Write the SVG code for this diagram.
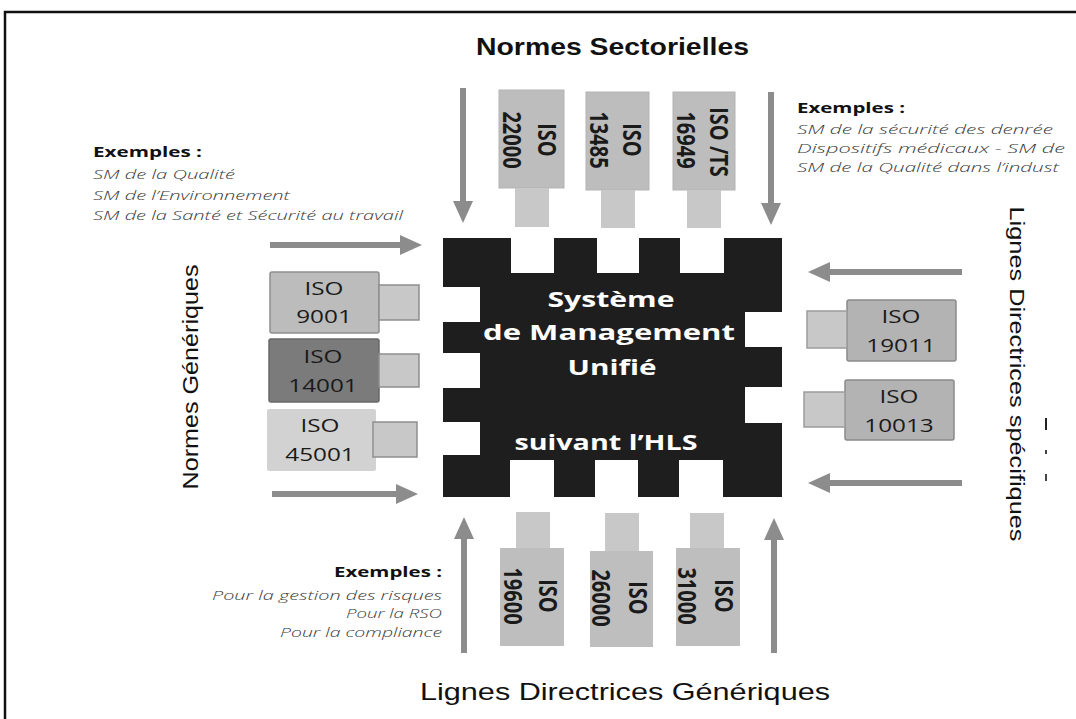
<svg xmlns="http://www.w3.org/2000/svg" width="1076" height="719" viewBox="0 0 1076 719">
<style>
.title{font-family:"Liberation Sans",Arial,sans-serif;fill:#111;}
.ex{font-family:"Open Sans","Liberation Sans",sans-serif;font-weight:bold;font-size:15px;fill:#111;}
.it{font-family:"Open Sans","Liberation Sans",sans-serif;font-style:italic;font-weight:300;font-size:13px;fill:#3a3a3a;}
.lbl{font-family:"Open Sans","Liberation Sans",sans-serif;font-size:18px;fill:#1a1a1a;text-anchor:middle;}
.vlbl{font-family:"Open Sans","Liberation Sans",sans-serif;font-weight:bold;font-size:20px;fill:#1a1a1a;text-anchor:middle;}
.chip{font-family:"Open Sans","Liberation Sans",sans-serif;font-weight:bold;font-size:22px;fill:#fff;text-anchor:middle;}
.arr{stroke:#8c8c8c;stroke-width:6;fill:none;marker-end:url(#ah);}
.plug{fill:#c8c8c8;}
</style>
<defs>
<marker id="ah" viewBox="0 0 22 20" refX="7" refY="10" markerWidth="22" markerHeight="20" markerUnits="userSpaceOnUse" orient="auto">
<path d="M0,0 L22,10 L0,20 Z" fill="#8c8c8c"/>
</marker>
</defs>
<rect width="1076" height="719" fill="#fff"/>
<path d="M5,719 V12 H1076" fill="none" stroke="#111" stroke-width="2.5"/>

<g id="label-normes-sectorielles"><text class="title" x="476" y="55" font-size="23" font-weight="bold" textLength="273" lengthAdjust="spacingAndGlyphs">Normes Sectorielles</text></g>
<g id="label-lignes-generiques"><text class="title" x="420" y="700" font-size="24" textLength="410" lengthAdjust="spacingAndGlyphs">Lignes Directrices Génériques</text></g>
<g id="label-normes-generiques"><text class="title" transform="translate(198 377) rotate(-90)" x="-112.5" y="0" font-size="22" textLength="225" lengthAdjust="spacingAndGlyphs">Normes Génériques</text></g>
<g id="label-lignes-specifiques"><text class="title" transform="translate(1010 374) rotate(90)" x="-167.5" y="0" font-size="21" textLength="335" lengthAdjust="spacingAndGlyphs">Lignes Directrices spécifiques</text>
<rect x="1045" y="418" width="2" height="12" fill="#222"/><rect x="1045" y="450" width="2" height="4" fill="#444"/><rect x="1045" y="474" width="2" height="7" fill="#444"/></g>

<g id="examples-generic">
<text class="ex" x="93" y="157" textLength="109" lengthAdjust="spacingAndGlyphs">Exemples :</text>
<text class="it" x="93" y="179" textLength="142" lengthAdjust="spacingAndGlyphs">SM de la Qualité</text>
<text class="it" x="93" y="200" textLength="197" lengthAdjust="spacingAndGlyphs">SM de l’Environnement</text>
<text class="it" x="93" y="220" textLength="310" lengthAdjust="spacingAndGlyphs">SM de la Santé et Sécurité au travail</text>
</g>
<g id="examples-sector">
<text class="ex" x="797" y="113" textLength="108" lengthAdjust="spacingAndGlyphs">Exemples :</text>
<text class="it" x="797" y="134" textLength="256" lengthAdjust="spacingAndGlyphs">SM de la sécurité des denrée</text>
<text class="it" x="797" y="153" textLength="268" lengthAdjust="spacingAndGlyphs">Dispositifs médicaux - SM de</text>
<text class="it" x="797" y="172" textLength="262" lengthAdjust="spacingAndGlyphs">SM de la Qualité dans l’indust</text>
</g>
<g id="examples-guidelines">
<text class="ex" x="334" y="577" textLength="108" lengthAdjust="spacingAndGlyphs">Exemples :</text>
<text class="it" x="212" y="600" textLength="230" lengthAdjust="spacingAndGlyphs">Pour la gestion des risques</text>
<text class="it" x="346" y="618" textLength="96" lengthAdjust="spacingAndGlyphs">Pour la RSO</text>
<text class="it" x="280" y="637" textLength="162" lengthAdjust="spacingAndGlyphs">Pour la compliance</text>
</g>

<g id="node-chip">
<path d="M443,238 H511 V273 H554 V238 H597 V273 H639 V238 H680 V273 H724 V238 H782 V312 H745 V347 H782 V387 H745 V423 H782 V497 H723 V460 H679 V497 H638 V460 H595 V497 H554 V460 H510 V497 H443 V455 H480 V422 H443 V388 H480 V353 H443 V322 H480 V287 H443 Z" fill="#1e1e1e"/>
<text class="chip" x="611" y="307" textLength="127" lengthAdjust="spacingAndGlyphs">Système</text>
<text class="chip" x="609" y="340" textLength="252" lengthAdjust="spacingAndGlyphs">de Management</text>
<text class="chip" x="612" y="375" textLength="89" lengthAdjust="spacingAndGlyphs">Unifié</text>
<text class="chip" x="606" y="450" textLength="183" lengthAdjust="spacingAndGlyphs">suivant l’HLS</text>
</g>

<g id="node-iso22000">
<rect x="499" y="90" width="65" height="98" fill="#bdbdbd" stroke="#b3b3b3"/>
<rect class="plug" x="515" y="188" width="34" height="39"/>
<text class="vlbl" transform="translate(538 140) scale(1.25 1) rotate(90)">ISO</text>
<text class="vlbl" transform="translate(503 140) scale(1.25 1) rotate(90)">22000</text>
</g>
<g id="node-iso13485">
<rect x="586" y="92" width="63" height="98" fill="#bdbdbd" stroke="#b3b3b3"/>
<rect class="plug" x="601" y="190" width="34" height="38"/>
<text class="vlbl" transform="translate(623 140) scale(1.25 1) rotate(90)">ISO</text>
<text class="vlbl" transform="translate(590 140) scale(1.25 1) rotate(90)">13485</text>
</g>
<g id="node-iso16949">
<rect x="673" y="92" width="62" height="98" fill="#bdbdbd" stroke="#b3b3b3"/>
<rect class="plug" x="687" y="190" width="34" height="38"/>
<text class="vlbl" transform="translate(710 142) scale(1.25 1) rotate(90)">ISO /TS</text>
<text class="vlbl" transform="translate(677 140) scale(1.25 1) rotate(90)">16949</text>
</g>

<g id="node-iso9001">
<rect x="270" y="272" width="109" height="61" rx="2" fill="#bcbcbc" stroke="#8e8e8e" stroke-width="1.5"/>
<rect class="plug" x="379" y="285" width="40" height="35" stroke="#8e8e8e" stroke-width="1.5"/>
<text class="lbl" transform="translate(324 295) scale(1.35 1)">ISO</text>
<text class="lbl" transform="translate(324 323) scale(1.35 1)">9001</text>
</g>
<g id="node-iso14001">
<rect x="269" y="339" width="110" height="63" rx="2" fill="#7b7b7b" stroke="#6a6a6a" stroke-width="1.5"/>
<rect class="plug" x="379" y="354" width="40" height="33" stroke="#8e8e8e" stroke-width="1.5"/>
<text class="lbl" transform="translate(323 363) scale(1.35 1)">ISO</text>
<text class="lbl" transform="translate(323 392) scale(1.35 1)">14001</text>
</g>
<g id="node-iso45001">
<rect x="267" y="409" width="109" height="62" rx="2" fill="#d2d2d2"/>
<rect class="plug" x="373" y="422" width="44" height="35" stroke="#8e8e8e" stroke-width="1.5"/>
<text class="lbl" transform="translate(320 432) scale(1.35 1)">ISO</text>
<text class="lbl" transform="translate(320 461) scale(1.35 1)">45001</text>
</g>

<g id="node-iso19011">
<rect x="847" y="300" width="109" height="61" rx="2" fill="#b3b3b3" stroke="#8a8a8a" stroke-width="1.5"/>
<rect class="plug" x="807" y="311" width="40" height="37" stroke="#9c9c9c" stroke-width="1.5"/>
<text class="lbl" transform="translate(901 323) scale(1.35 1)">ISO</text>
<text class="lbl" transform="translate(901 352) scale(1.35 1)">19011</text>
</g>
<g id="node-iso10013">
<rect x="845" y="380" width="109" height="60" rx="2" fill="#b3b3b3" stroke="#8a8a8a" stroke-width="1.5"/>
<rect class="plug" x="804" y="392" width="41" height="35" stroke="#9c9c9c" stroke-width="1.5"/>
<text class="lbl" transform="translate(899 403) scale(1.35 1)">ISO</text>
<text class="lbl" transform="translate(899 432) scale(1.35 1)">10013</text>
</g>

<g id="node-iso19600">
<rect class="plug" x="516" y="512" width="34" height="36"/>
<rect x="500" y="548" width="64" height="98" fill="#bebebe"/>
<text class="vlbl" transform="translate(539 596) scale(1.25 1) rotate(90)">ISO</text>
<text class="vlbl" transform="translate(504 596) scale(1.25 1) rotate(90)">19600</text>
</g>
<g id="node-iso26000">
<rect class="plug" x="605" y="513" width="34" height="38"/>
<rect x="590" y="551" width="63" height="96" fill="#bebebe"/>
<text class="vlbl" transform="translate(629 598) scale(1.25 1) rotate(90)">ISO</text>
<text class="vlbl" transform="translate(592 598) scale(1.25 1) rotate(90)">26000</text>
</g>
<g id="node-iso31000">
<rect class="plug" x="690" y="513" width="34" height="35"/>
<rect x="676" y="548" width="64" height="98" fill="#bebebe"/>
<text class="vlbl" transform="translate(715 596) scale(1.25 1) rotate(90)">ISO</text>
<text class="vlbl" transform="translate(678 596) scale(1.25 1) rotate(90)">31000</text>
</g>

<g id="connectors">
<line class="arr" x1="270" y1="245" x2="407" y2="245"/>
<line class="arr" x1="272" y1="494" x2="403" y2="494"/>
<line class="arr" x1="962" y1="272" x2="823" y2="272"/>
<line class="arr" x1="962" y1="483" x2="823" y2="483"/>
<line class="arr" x1="463" y1="88" x2="463" y2="208"/>
<line class="arr" x1="771" y1="92" x2="771" y2="210"/>
<line class="arr" x1="464" y1="653" x2="464" y2="532"/>
<line class="arr" x1="774" y1="653" x2="774" y2="533"/>
</g>
</svg>
